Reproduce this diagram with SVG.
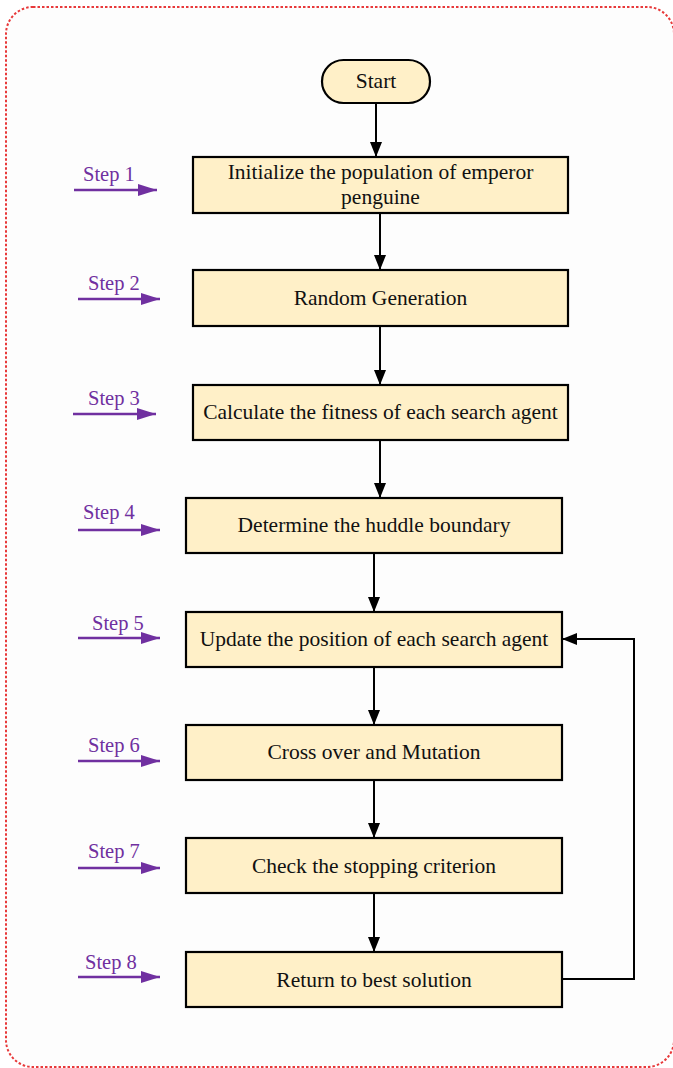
<svg xmlns="http://www.w3.org/2000/svg" width="673" height="1068" viewBox="0 0 673 1068">
  <defs>
    <marker id="arrow-black" viewBox="0 0 15 12" refX="15" refY="6" markerWidth="15" markerHeight="12" markerUnits="userSpaceOnUse" orient="auto">
      <path d="M0,0 L15,6 L0,12 Z" fill="#000"/>
    </marker>
    <marker id="arrow-purple" viewBox="0 0 19 12" refX="19" refY="6" markerWidth="19" markerHeight="12" markerUnits="userSpaceOnUse" orient="auto">
      <path d="M0,0 L19,6 L0,12 Z" fill="#7030A0"/>
    </marker>
  </defs>
  <style>
    .frame { fill: #fdfdfd; stroke: #e8393a; stroke-width: 2; stroke-dasharray: 2.5 2; }
    .box { fill: #fff0c8; stroke: #000; stroke-width: 2.2; }
    .label { font-family: "Liberation Serif", "Times New Roman", serif; font-size: 21.5px; fill: #111; text-anchor: middle; }
    .step { font-family: "Liberation Serif", "Times New Roman", serif; font-size: 20.5px; fill: #7030A0; }
    .flow { fill: none; stroke: #000; stroke-width: 2; marker-end: url(#arrow-black); }
    .steparrow { fill: none; stroke: #7030A0; stroke-width: 2.5; marker-end: url(#arrow-purple); }
  </style>

  <!-- outer dashed frame -->
  <rect class="frame" x="6" y="7" width="668" height="1060" rx="27" ry="27"/>

  <!-- step markers -->
  <g id="step-labels">
    <text class="step" x="83" y="181">Step 1</text>
    <line class="steparrow" x1="74" y1="190" x2="157" y2="190"/>
    <text class="step" x="88" y="290">Step 2</text>
    <line class="steparrow" x1="78" y1="299" x2="160" y2="299"/>
    <text class="step" x="88" y="405">Step 3</text>
    <line class="steparrow" x1="73" y1="414" x2="156" y2="414"/>
    <text class="step" x="83" y="519">Step 4</text>
    <line class="steparrow" x1="78" y1="530" x2="160" y2="530"/>
    <text class="step" x="92" y="630">Step 5</text>
    <line class="steparrow" x1="78" y1="638" x2="160" y2="638"/>
    <text class="step" x="88" y="752">Step 6</text>
    <line class="steparrow" x1="78" y1="761" x2="160" y2="761"/>
    <text class="step" x="88" y="858">Step 7</text>
    <line class="steparrow" x1="78" y1="868" x2="160" y2="868"/>
    <text class="step" x="85" y="969">Step 8</text>
    <line class="steparrow" x1="78" y1="977" x2="160" y2="977"/>
  </g>

  <!-- connectors -->
  <g id="connectors">
    <line class="flow" x1="376" y1="103" x2="376" y2="157"/>
    <line class="flow" x1="380" y1="213" x2="380" y2="270"/>
    <line class="flow" x1="380" y1="326" x2="380" y2="385"/>
    <line class="flow" x1="380" y1="440" x2="380" y2="498"/>
    <line class="flow" x1="374" y1="553" x2="374" y2="612"/>
    <line class="flow" x1="374" y1="667" x2="374" y2="725"/>
    <line class="flow" x1="374" y1="780" x2="374" y2="838"/>
    <line class="flow" x1="374" y1="893" x2="374" y2="952"/>
    <polyline class="flow" points="562,979 634,979 634,639 562,639"/>
  </g>

  <g id="start">
    <rect class="box" x="322" y="60" width="108" height="43" rx="21.5" ry="21.5"/>
    <text class="label" x="376" y="88">Start</text>
  </g>

  <g id="step1">
    <rect class="box" x="193" y="157" width="375" height="56"/>
    <text class="label" x="380.5" y="179">Initialize the population of emperor</text>
    <text class="label" x="380.5" y="204">penguine</text>
  </g>

  <g id="step2">
    <rect class="box" x="193" y="270" width="375" height="56"/>
    <text class="label" x="380.5" y="305">Random Generation</text>
  </g>

  <g id="step3">
    <rect class="box" x="193" y="385" width="375" height="55"/>
    <text class="label" x="380.5" y="419">Calculate the fitness of each search agent</text>
  </g>

  <g id="step4">
    <rect class="box" x="186" y="498" width="376" height="55"/>
    <text class="label" x="374" y="532">Determine the huddle boundary</text>
  </g>

  <g id="step5">
    <rect class="box" x="186" y="612" width="376" height="55"/>
    <text class="label" x="374" y="646">Update the position of each search agent</text>
  </g>

  <g id="step6">
    <rect class="box" x="186" y="725" width="376" height="55"/>
    <text class="label" x="374" y="759">Cross over and Mutation</text>
  </g>

  <g id="step7">
    <rect class="box" x="186" y="838" width="376" height="55"/>
    <text class="label" x="374" y="873">Check the stopping criterion</text>
  </g>

  <g id="step8">
    <rect class="box" x="186" y="952" width="376" height="55"/>
    <text class="label" x="374" y="987">Return to best solution</text>
  </g>
</svg>
